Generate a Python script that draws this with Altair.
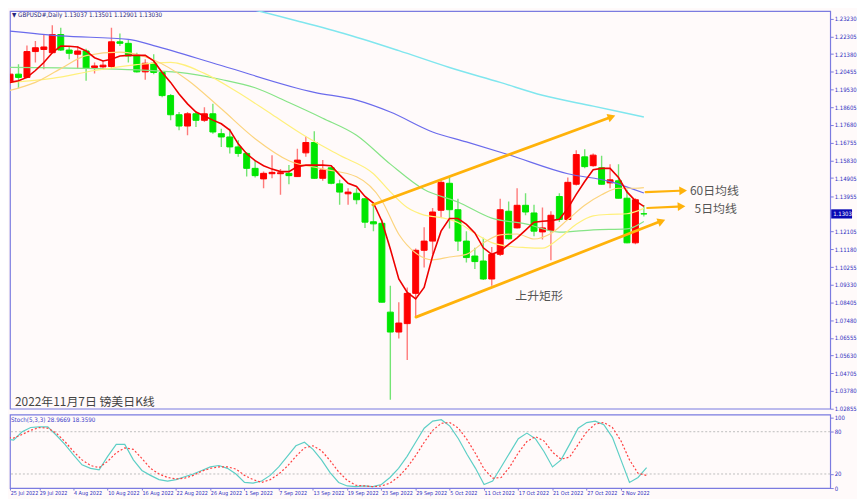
import altair as alt
import pandas as pd

# ---------------- data ----------------
opens = [1.1990,1.2033,1.2016,1.2151,1.2162,1.2145,1.2240,1.2159,1.2137,1.2154,
         1.2068,1.2071,1.2073,1.2202,1.2194,1.2128,1.2045,1.2090,1.2042,1.1921,
         1.1821,1.1762,1.1826,1.1792,1.1826,1.1722,1.1705,1.1653,1.1619,1.1541,
         1.1486,1.1513,1.1513,1.1515,1.1498,1.1622,1.1676,1.1489,1.1544,1.1460,
         1.1408,1.1411,1.1382,1.1262,1.1254,1.0790,1.0686,1.0730,1.0888,1.1113,
         1.1161,1.1322,1.1463,1.1325,1.1161,1.1083,1.1057,1.0963,1.1092,1.1317,
         1.1230,1.1348,1.1308,1.1209,1.1217,1.1394,1.1274,1.1458,1.1601,1.1555,
         1.1544,1.1465,1.1476,1.1385,1.1152,1.13037]
highs = [1.2062,1.2085,1.2183,1.2206,1.2240,1.2289,1.2275,1.2180,1.2180,1.2166,
         1.2094,1.2102,1.2275,1.2245,1.2211,1.2145,1.2111,1.2137,1.2045,1.1929,
         1.1835,1.1835,1.1838,1.1860,1.1878,1.1748,1.1748,1.1688,1.1627,1.1584,
         1.1524,1.1610,1.1538,1.1558,1.1644,1.1709,1.1735,1.1584,1.1550,1.1481,
         1.1437,1.1437,1.1385,1.1360,1.1274,1.0928,1.0842,1.0919,1.1123,1.1234,
         1.1334,1.1481,1.1498,1.1382,1.1213,1.1126,1.1178,1.1130,1.1382,1.1368,
         1.1437,1.1411,1.1351,1.1337,1.1317,1.1411,1.1493,1.1636,1.1641,1.1619,
         1.1607,1.1562,1.1562,1.1429,1.1385,1.13501]
lows = [1.1980,1.1959,1.2012,1.2094,1.2059,1.2142,1.2154,1.2111,1.2062,1.1999,
        1.2037,1.2056,1.2062,1.2180,1.2094,1.2042,1.2004,1.2033,1.1912,1.1792,
        1.1740,1.1714,1.1757,1.1783,1.1722,1.1653,1.1619,1.1601,1.1498,1.1493,
        1.1437,1.1489,1.1403,1.1458,1.1496,1.1601,1.1487,1.1476,1.1458,1.1351,
        1.1351,1.1354,1.1230,1.1213,1.0840,1.0332,1.0652,1.0540,1.0764,1.1023,
        1.1092,1.1282,1.1227,1.1109,1.1049,1.1015,1.0958,1.0928,1.1083,1.1170,
        1.1227,1.1296,1.1187,1.1170,1.1061,1.1261,1.1272,1.1451,1.1541,1.1550,
        1.1455,1.1437,1.1383,1.1150,1.1144,1.12901]
closes = [1.2033,1.2016,1.2151,1.2171,1.2175,1.2240,1.2159,1.2142,1.2154,1.2064,
          1.2076,1.2080,1.2202,1.2194,1.2128,1.2045,1.2090,1.2042,1.1921,1.1821,
          1.1762,1.1826,1.1792,1.1826,1.1731,1.1705,1.1653,1.1619,1.1541,1.1503,
          1.1515,1.1520,1.1518,1.1503,1.1584,1.1676,1.1489,1.1533,1.1463,1.1417,
          1.1417,1.1377,1.1260,1.1251,1.0842,1.0686,1.0733,1.0888,1.1113,1.1161,
          1.1313,1.1468,1.1325,1.1161,1.1075,1.1054,1.0963,1.1092,1.1325,1.1173,
          1.1348,1.1313,1.1213,1.1230,1.1296,1.1274,1.1468,1.1613,1.1550,1.1610,
          1.1458,1.1481,1.1385,1.1152,1.1377,1.13030]

ma5 = [1.1990,1.1999,1.2016,1.2052,1.2094,1.2145,1.2180,1.2179,1.2175,1.2154,
       1.2119,1.2102,1.2111,1.2128,1.2131,1.2131,1.2131,1.2102,1.2042,1.1990,
       1.1929,1.1878,1.1835,1.1814,1.1793,1.1774,1.1741,1.1669,1.1617,1.1581,
       1.1555,1.1537,1.1524,1.1524,1.1550,1.1558,1.1558,1.1558,1.1555,1.1507,
       1.1463,1.1446,1.1394,1.1360,1.1265,1.1120,1.0963,1.0893,1.0859,1.0919,
       1.1083,1.1213,1.1279,1.1279,1.1248,1.1204,1.1126,1.1092,1.1109,1.1144,
       1.1178,1.1218,1.1260,1.1265,1.1268,1.1275,1.1332,1.1405,1.1472,1.1534,
       1.1541,1.1541,1.1493,1.1418,1.1371,1.1342]

ma10_i = [0,3,6,9,13,17,21,25,29,33,37,41,44,46,48,50,52,54,56,58,60,62,64,66,68,70,72,74,75]
ma10_v = [1.1948,1.1990,1.2062,1.2130,1.2148,1.2107,1.2003,1.1852,1.1696,1.1581,
          1.1538,1.1497,1.1372,1.1197,1.1099,1.1063,1.1078,1.1092,1.1152,1.1194,
          1.1198,1.1172,1.1201,1.1273,1.1348,1.1403,1.1437,1.1437,1.1440]
ma20_i = [0,5,10,15,19,23,27,31,35,39,43,45,47,49,51,53,55,57,59,61,63,65,67,69,71,73,75]
ma20_v = [1.1990,1.2011,1.2052,1.2083,1.2095,1.2037,1.1937,1.1822,1.1707,1.1609,
          1.1513,1.1418,1.1336,1.1297,1.1284,1.1258,1.1201,1.1153,1.1134,1.1127,
          1.1124,1.1176,1.1249,1.1293,1.1301,1.1304,1.1332]
ma30_i = [0,10,20,25,29,33,37,41,45,49,53,57,61,65,69,73,75]
ma30_v = [1.2068,1.2062,1.2042,1.2005,1.1962,1.1885,1.1803,1.1714,1.1563,1.1430,
          1.1365,1.1281,1.1251,1.1208,1.1220,1.1225,1.1264]
ma60_i = [0,6,14,17,25,36,41,45,50,54,59,66,71,75]
ma60_v = [1.2258,1.2233,1.2215,1.2182,1.2078,1.1938,1.1897,1.1835,1.1731,1.1679,
          1.1612,1.1513,1.1472,1.1412]
ma120_i = [20,27,34,40,46,52,58,63,69,75]
ma120_v = [1.2460,1.2389,1.2311,1.2239,1.2156,1.2068,1.1990,1.1923,1.1866,1.1809]

stoch_k = [70,68,80,86,87,87,75,62,47,33,28,26,45,62,62,40,25,18,12,10,
           12,16,20,25,30,32,28,20,8,7,10,18,30,45,60,65,55,40,22,8,
           3,2,3,2,5,15,28,45,65,85,95,97,88,70,48,28,5,10,30,50,
           70,78,70,52,30,40,62,85,93,95,90,72,40,8,15,29]
stoch_d = [72,71,76,82,86,85,78,66,52,40,32,29,38,50,57,55,42,28,20,15,
           13,14,18,24,28,30,30,27,18,12,8,12,20,31,45,57,60,53,39,23,
           11,4,3,2,3,7,16,29,46,65,82,92,93,85,69,49,27,14,15,30,
           50,66,73,67,51,41,44,62,80,91,93,86,67,40,21,18]

date_labels = ['25 Jul 2022','29 Jul 2022','4 Aug 2022','10 Aug 2022','16 Aug 2022',
               '22 Aug 2022','26 Aug 2022','1 Sep 2022','7 Sep 2022','13 Sep 2022',
               '19 Sep 2022','23 Sep 2022','29 Sep 2022','5 Oct 2022','11 Oct 2022',
               '17 Oct 2022','21 Oct 2022','27 Oct 2022','2 Nov 2022']
date_pos = [0.6] + list(range(4, 76, 4))
price_ticks = [1.23230,1.22305,1.21380,1.20455,1.19530,1.18605,1.17680,1.16755,
               1.15830,1.14905,1.13955,1.12105,1.11180,1.10255,1.09330,1.08405,
               1.07480,1.06555,1.05630,1.04705,1.03780,1.02855]
stoch_ticks = [0, 20, 80, 100]
last_price = 1.13030

# trend annotations: (segment, bar index, price) end points
seg_name = ['up', 'up', 'low', 'low', 'a60', 'a60', 'a5', 'a5']
seg_i = [42.93, 70.9, 48.03, 76.6, 75.21, 79.2, 75.4, 79.0]
seg_v = [1.1351, 1.1805, 1.0764, 1.1258, 1.1417, 1.1424, 1.1334, 1.1341]
head_i = [71.19, 77.1, 79.65, 79.46]
head_v = [1.1810, 1.1265, 1.1424, 1.1342]
head_ang = [340, 339, 358, 357]

# ---------------- styling ----------------
# whole chart kept within 849 x 485 so the page is not rescaled
W, HM, HS = 827, 401, 74
XS = alt.Scale(domain=[0.5797, 96.464], nice=False, zero=False)
YS = alt.Scale(domain=[1.02855, 1.23629], nice=False, zero=False)
SS = alt.Scale(domain=[0, 104.2], nice=False, zero=False)
FRAME = '#7b7be0'
LBL = '#2f2fc0'
SMALL = 'Liberation Sans Narrow, DejaVu Sans Condensed, Liberation Sans, sans-serif'
CJK = 'Noto Sans CJK SC'

YAX = alt.Axis(orient='right', values=price_ticks, format='.5f', title=None, grid=False,
               domain=False, tickSize=3, tickColor=FRAME, labelColor=LBL, labelFontSize=6,
               labelFont=SMALL, labelPadding=1, labelOverlap=False, labelBound=False,
               labelFlush=False)
SAX = alt.Axis(orient='right', values=stoch_ticks, format='d', title=None, grid=False,
               domain=False, tickSize=3, tickColor=FRAME, labelColor=LBL, labelFontSize=6,
               labelFont=SMALL, labelPadding=1, labelOverlap=False, labelFlush=False)
label_js = '[' + ','.join("'%s'" % d for d in date_labels) + ']'
XAX = alt.Axis(values=date_pos, title=None, grid=False, domain=False,
               tickSize=2, tickColor=FRAME, labelColor=LBL, labelFontSize=5.5, labelFont=SMALL,
               labelAlign='left', labelBaseline='top', labelPadding=0, labelOverlap=False,
               labelFlush=False, labelBound=False,
               labelExpr=label_js + '[round(datum.value/4)]')

# ---------------- tables ----------------
n = len(opens)
cdf = pd.DataFrame({'i': list(range(n)), 'o': opens, 'h': highs, 'l': lows, 'c': closes})
cdf['up'] = [c > o for o, c in zip(opens, closes)]

def line_df(ix, vals):
    return pd.DataFrame({'i': ix, 'v': vals})

X = alt.X('i:Q', scale=XS, axis=None)
Y = lambda f: alt.Y(f, scale=YS, axis=YAX)

def candles(is_up, body, wick):
    base = alt.Chart(cdf).transform_filter(
        'datum.up' if is_up else '!datum.up')
    w = base.mark_rule(clip=True, strokeWidth=1.4, color=wick).encode(
        x=X, y=Y('l:Q'), y2='h:Q')
    b = base.mark_bar(clip=True, size=6, strokeWidth=1, color=body, stroke=body,
                      opacity=1).encode(x=X, y=Y('o:Q'), y2='c:Q')
    return w, b

w_up, b_up = candles(True, '#ff0000', '#ff7a7a')
w_dn, b_dn = candles(False, '#00e600', '#74e474')

def ma_layer(df, color, width):
    return alt.Chart(df).mark_line(clip=True, color=color, strokeWidth=width,
                                   interpolate='monotone').encode(x=X, y=Y('v:Q'))

l120 = ma_layer(line_df(ma120_i, ma120_v), '#80e6ee', 1.5)
l60 = ma_layer(line_df(ma60_i, ma60_v), '#6b6bec', 1.2)
l30 = ma_layer(line_df(ma30_i, ma30_v), '#86e486', 1.2)
l20 = ma_layer(line_df(ma20_i, ma20_v), '#fff07c', 1.2)
l10 = ma_layer(line_df(ma10_i, ma10_v), '#fcd47e', 1.2)
l5 = alt.Chart(line_df(list(range(n)), ma5)).mark_line(
    clip=True, color='#ee0000', strokeWidth=1.6).encode(x=X, y=Y('v:Q'))

ORANGE = '#ffb20a'
seg_df = pd.DataFrame({'s': seg_name, 'i': seg_i, 'v': seg_v})
seg_df['w'] = [2.8 if s in ('up', 'low') else 2.2 for s in seg_name]
segs = alt.Chart(seg_df).mark_line(color=ORANGE, strokeCap='round').encode(
    x=X, y=Y('v:Q'), detail='s:N',
    strokeWidth=alt.StrokeWidth('w:Q', scale=None))
heads_df = pd.DataFrame({'i': head_i, 'v': head_v, 'ang': head_ang})
heads = alt.Chart(heads_df).mark_point(shape='triangle-right', filled=True, opacity=1,
                                       color=ORANGE, size=80).encode(
    x=X, y=Y('v:Q'), angle=alt.Angle('ang:Q', scale=None))

txt_df = pd.DataFrame({'i': [80.46, 81.0], 'v': [1.1420, 1.1328], 't': ['60日均线', '5日均线']})
txts = alt.Chart(txt_df).mark_text(font=CJK, fontSize=12, color='#555555', align='left',
                                   baseline='middle').encode(x=X, y=Y('v:Q'), text='t:N')
pat_df = pd.DataFrame({'i': [62.6], 'v': [1.0876], 't': ['上升矩形']})
pat = alt.Chart(pat_df).mark_text(font=CJK, fontSize=12, color='#555555', align='center',
                                  baseline='middle').encode(x=X, y=Y('v:Q'), text='t:N')
cap_df = pd.DataFrame({'i': [0.58], 'v': [1.0318], 't': ['2022年11月7日 镑美日K线']})
cap = alt.Chart(cap_df).mark_text(font=CJK, fontSize=12, color='#444444', align='left',
                                  baseline='middle').encode(x=X, y=Y('v:Q'), text='t:N')

hdr = alt.Chart(pd.DataFrame({'t': ['▼ GBPUSD#,Daily  1.13037 1.13501 1.12901 1.13030']})).mark_text(
    font=SMALL, fontSize=6.3, color='#26267a', align='left', baseline='middle').encode(
    x=alt.value(2), y=alt.value(4), text='t:N')

box_df = pd.DataFrame({'hi': [last_price + 0.0024], 'lo': [last_price - 0.0024],
                       'p': [last_price], 't': ['%.5f' % last_price]})
box = alt.Chart(box_df).mark_rect(color='#0a0ab4').encode(
    x=alt.value(W + 1), x2=alt.value(W + 22), y=Y('hi:Q'), y2='lo:Q')
box_t = alt.Chart(box_df).mark_text(font=SMALL, fontSize=6, color='white', align='left',
                                    baseline='middle').encode(
    x=alt.value(W + 3), y=Y('p:Q'), text='t:N')

main = alt.layer(w_up, w_dn, b_up, b_dn, l120, l60, l30, l20, l10, l5, segs, heads,
                 txts, pat, cap, hdr, box, box_t).properties(width=W, height=HM)

# ---------------- stochastic ----------------
sdf = pd.DataFrame({'i': list(range(n)), 'k': stoch_k, 'd': stoch_d})
XS_AX = alt.X('i:Q', scale=XS, axis=XAX)
lv = alt.Chart(pd.DataFrame({'v': [20, 80]})).mark_rule(color='#bdbdbd', strokeDash=[2, 2],
                                                        strokeWidth=1).encode(
    y=alt.Y('v:Q', scale=SS, axis=SAX))
kline = alt.Chart(sdf).mark_line(clip=True, color='#5ecfc6', strokeWidth=1.2).encode(
    x=XS_AX, y=alt.Y('k:Q', scale=SS, axis=SAX))
dline = alt.Chart(sdf).mark_line(clip=True, color='#ff4040', strokeWidth=1.2,
                                 strokeDash=[2, 2]).encode(
    x=XS_AX, y=alt.Y('d:Q', scale=SS, axis=SAX))
slab = alt.Chart(pd.DataFrame({'t': ['Stoch(5,3,3) 28.9669 18.3590']})).mark_text(
    font=SMALL, fontSize=6.3, color='#3b3bc8', align='left', baseline='middle').encode(
    x=alt.value(1), y=alt.value(5), text='t:N')
stoch = alt.layer(lv, kline, dline, slab).properties(width=W, height=HS)

chart = alt.vconcat(main, stoch, spacing=1).properties(
    padding={'left': 0, 'top': 0, 'right': 0, 'bottom': 0},
    background='#fffafa'
).configure_view(stroke=FRAME, strokeWidth=1.2).configure_concat(spacing=1)

chart.save('out.html', embed_options={'renderer': 'svg', 'actions': False})
